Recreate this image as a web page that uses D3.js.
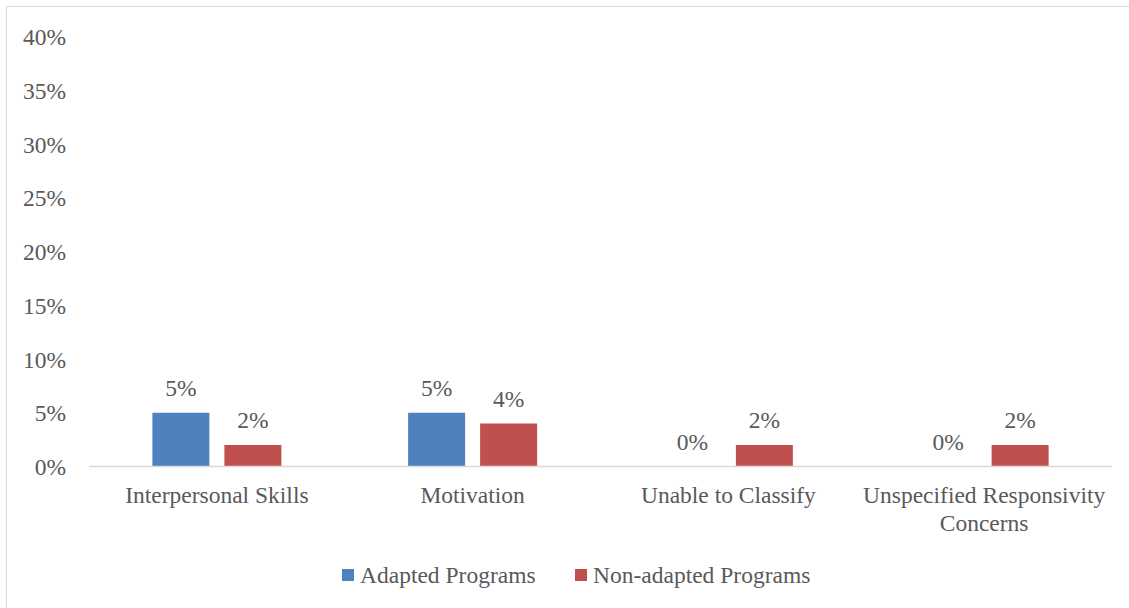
<!DOCTYPE html>
<html><head><meta charset="utf-8">
<script src="https://cdn.jsdelivr.net/npm/d3@7"></script>
<style>body{margin:0;background:#fff}svg{display:block}text{font-family:"Liberation Serif","Times New Roman",serif;fill:#595959}</style>
</head><body><svg id="c" width="1129" height="608"></svg>
<script>
const categories = [["Interpersonal Skills"],["Motivation"],["Unable to Classify"],["Unspecified Responsivity","Concerns"]];
const seriesNames = ["Adapted Programs","Non-adapted Programs"];
const adapted = [5,5,0,0];
const nonAdapted = [2,4,2,2];
const yTicks = [0,5,10,15,20,25,30,35,40];
const colors = ["#4f81bd","#c0504d"];
const FS = "23.5px";

const svg = d3.select("#c");
svg.append("rect").attr("x",6.5).attr("y",6.5).attr("width",1140).attr("height",640)
  .attr("fill","#fff").attr("stroke","#d9d9d9").attr("stroke-width",1);

const x0 = 89, x1 = 1112, yBase = 466.5, yTop = 36.5;
const x = d3.scaleBand().domain(d3.range(categories.length)).range([x0,x1]);
const y = d3.scaleLinear().domain([0,40]).range([yBase,yTop]);
const bw = 57, gap = 15;
const xs = d3.scaleOrdinal().domain([0,1]).range([-(bw+gap/2), gap/2]);

const yAxis = d3.axisLeft(y).tickValues(yTicks).tickFormat(d=>d+"%").tickSize(0).tickPadding(0);
const ga = svg.append("g").attr("transform","translate(66,0)").call(yAxis);
ga.attr("font-family",null).attr("font-size",null);
ga.select(".domain").remove();
ga.selectAll("text").style("font-size",FS).attr("dy","0.34em");

const series = [adapted, nonAdapted];
series.forEach((vals,si)=>{
  const g = svg.append("g");
  g.selectAll("rect").data(vals).join("rect")
    .attr("x",(d,i)=>x(i)+x.bandwidth()/2+xs(si))
    .attr("y",d=>y(d)).attr("width",bw).attr("height",d=>yBase-y(d))
    .attr("fill",colors[si]);
  g.selectAll("text").data(vals).join("text")
    .attr("x",(d,i)=>x(i)+x.bandwidth()/2+xs(si)+bw/2)
    .attr("y",d=>y(d)-17).attr("text-anchor","middle")
    .style("font-size",FS).text(d=>d+"%");
});

svg.append("line").attr("x1",x0).attr("x2",x1).attr("y1",yBase).attr("y2",yBase)
  .attr("stroke","#d9d9d9").attr("stroke-width",1.5);

categories.forEach((lines,i)=>{
  const cx = x(i)+x.bandwidth()/2;
  const t = svg.append("text").attr("x",cx).attr("y",503)
    .attr("text-anchor","middle").style("font-size",FS);
  lines.forEach((l,k)=>t.append("tspan").attr("x",cx).attr("dy",k?28:0).text(l));
});

const leg = [{x:342,tx:360},{x:575,tx:593}];
seriesNames.forEach((n,i)=>{
  svg.append("rect").attr("x",leg[i].x).attr("y",569).attr("width",12).attr("height",12).attr("fill",colors[i]);
  svg.append("text").attr("x",leg[i].tx).attr("y",583).style("font-size",FS).text(n);
});
</script></body></html>
